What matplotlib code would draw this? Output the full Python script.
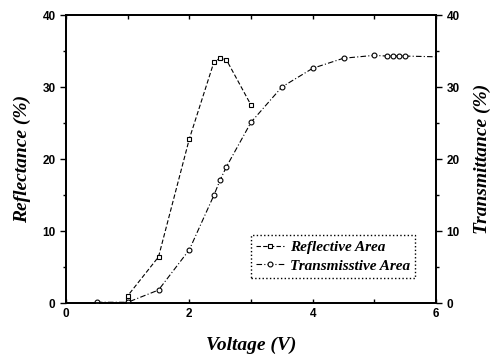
import matplotlib.pyplot as plt

# values
volt_refl = [1.0, 1.0, 1.5, 2.0, 2.4, 2.5, 2.6, 3.0]
reflectance = [0.5, 1.0, 6.4, 22.8, 33.5, 34.0, 33.8, 27.5]

volt_trans = [0.5, 1.0, 1.5, 2.0, 2.4, 2.5, 2.6, 3.0, 3.5, 4.0, 4.5, 5.0, 5.2, 5.3, 5.4, 5.5, 6.0]
transmittance = [0.1, 0.1, 1.8, 7.4, 15.0, 17.1, 18.9, 25.1, 30.0, 32.6, 34.0, 34.4, 34.3, 34.3, 34.3, 34.3, 34.2]
trans_marks = list(range(16))  # last point is the line end only

serif = 'Liberation Serif'
sans = 'Liberation Sans'

fig = plt.figure(figsize=(5, 3.58), dpi=100)
ax = fig.add_axes([0.132, 0.1536, 0.74, 0.8044])
ax2 = ax.twinx()

ax.plot(volt_refl, reflectance, color='black', lw=0.8, ls=(0, (4, 2)),
        marker='s', ms=3.5, mfc='white', mec='black', mew=0.8, label='Reflective Area')
ax2.plot(volt_trans, transmittance, color='black', lw=0.8, ls=(0, (5, 2, 1, 2)),
         marker='o', ms=3.5, mfc='white', mec='black', mew=0.8, markevery=trans_marks,
         label='Transmisstive Area')

for a in (ax, ax2):
    a.set_xlim(0, 6)
    a.set_ylim(0, 40)
    a.set_yticks([0, 10, 20, 30, 40])
    a.set_yticks([5, 15, 25, 35], minor=True)
    for s in a.spines.values():
        s.set_linewidth(1.3)

ax.set_xticks([0, 2, 4, 6])
ax.set_xticks([1, 3, 5], minor=True)
ax.tick_params(axis='x', which='both', direction='in', top=True, length=3, width=1)
ax.tick_params(axis='y', which='major', direction='out', length=4, width=1)
ax.tick_params(axis='y', which='minor', direction='out', length=2, width=1)
ax2.tick_params(axis='y', which='major', direction='out', length=4, width=1)
ax2.tick_params(axis='y', which='minor', direction='out', length=2, width=1)

for a in (ax, ax2):
    for lab in a.get_xticklabels() + a.get_yticklabels():
        lab.set_fontfamily(sans)
        lab.set_fontweight('bold')
        lab.set_fontsize(8.5)

ax.set_xlabel('Voltage (V)', fontfamily=serif, fontweight='bold', fontstyle='italic',
              fontsize=14, labelpad=12)
ax.set_ylabel('Reflectance (%)', fontfamily=serif, fontweight='bold', fontstyle='italic',
              fontsize=14, labelpad=8)
ax2.set_ylabel('Transmittance (%)', fontfamily=serif, fontweight='bold', fontstyle='italic',
               fontsize=14, labelpad=10, rotation=90)

h1, l1 = ax.get_legend_handles_labels()
h2, l2 = ax2.get_legend_handles_labels()
leg = ax2.legend(h1 + h2, l1 + l2, loc='lower right', bbox_to_anchor=(0.965, 0.06),
                 prop={'family': serif, 'style': 'italic', 'weight': 'bold', 'size': 11},
                 fancybox=False, framealpha=1, edgecolor='black', handlelength=1.8,
                 handletextpad=0.4, borderpad=0.35, labelspacing=0.3)
leg.get_frame().set_linestyle(':')
leg.get_frame().set_linewidth(1)

fig.savefig('out.png', dpi=100)
